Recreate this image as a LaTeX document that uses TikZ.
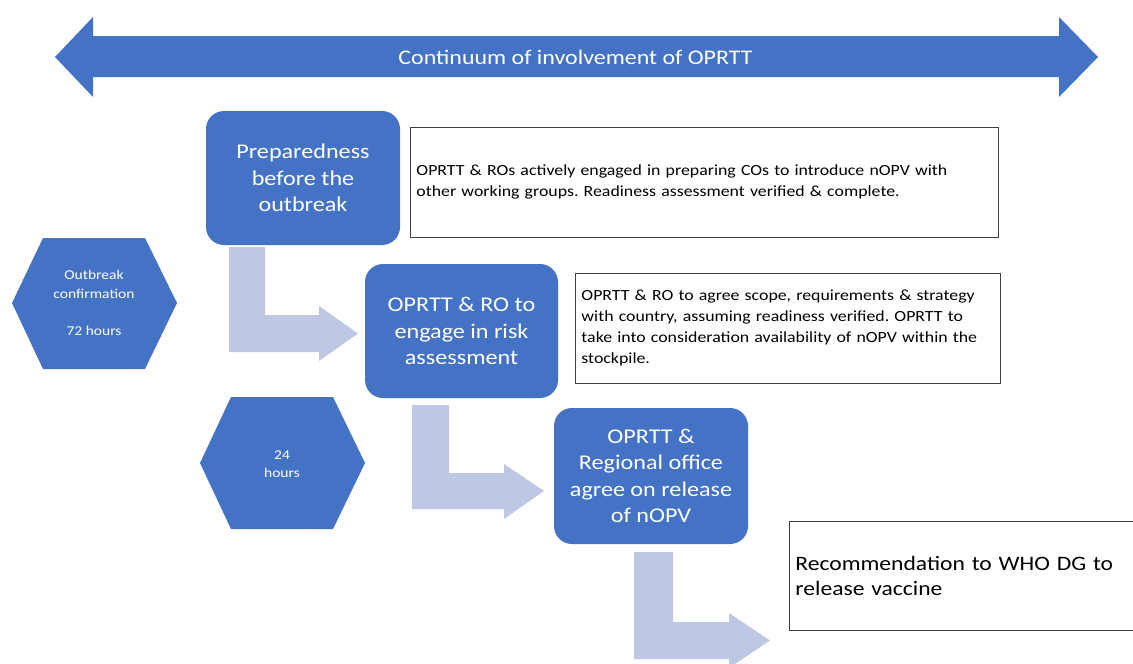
\documentclass[tikz,border=0pt]{standalone}
\usepackage{fontspec}
\setmainfont{Carlito}[FakeStretch=1.15]
\definecolor{mblue}{RGB}{68,114,196}
\definecolor{lblue}{RGB}{190,200,228}
\definecolor{bord}{RGB}{64,64,64}
\frenchspacing
\begin{document}
\begin{tikzpicture}[x=1pt,y=-1pt,
  stage/.style={fill=mblue,rounded corners=18pt,text=white,align=center,inner sep=0pt,
    font=\fontsize{21}{26.3}\selectfont},
  note/.style={draw=bord,line width=0.9pt,fill=white,align=left,inner xsep=6pt,inner ysep=0pt,anchor=west},
  hexa/.style={fill=mblue},
  bent/.style={fill=lblue},
  hexlabel/.style={text=white,align=center,inner sep=0pt,font=\fontsize{13.5}{18.7}\selectfont}]
\clip (0,0) rectangle (1133,664);
\fill[white] (0,0) rectangle (1133,664);
% top double arrow
\fill[mblue] (55,57) -- (93,17) -- (93,36) -- (1059,36) -- (1059,17) -- (1098,57)
  -- (1059,97) -- (1059,77) -- (93,77) -- (93,97) -- cycle;
\node[text=white,font=\fontsize{20.8}{24}\selectfont,inner sep=0pt] (title) at (575.5,57) {Continuum of involvement of OPRTT};
% stage boxes
\node[stage,minimum width=194pt,minimum height=134pt] (prep) at (303,178) {Preparedness\\before the\\outbreak};
\node[stage,minimum width=193pt,minimum height=134pt] (risk) at (461.5,331) {OPRTT \& RO to\\engage in risk\\assessment};
\node[stage,minimum width=194pt,minimum height=136pt] (agree) at (651,476) {OPRTT \&\\Regional office\\agree on release\\of nOPV};
% notes
\node[note,minimum height=110pt,text width=576pt,font=\fontsize{15.5}{21}\selectfont] (n1) at (410,182)
  {OPRTT \& ROs actively engaged in preparing COs to introduce nOPV with\\other working groups. Readiness assessment verified \& complete.};
\node[note,minimum height=110pt,text width=413pt,font=\fontsize{15.5}{21}\selectfont] (n2) at (575,328)
  {OPRTT \& RO to agree scope, requirements \& strategy\\with country, assuming readiness verified. OPRTT to\\take into consideration availability of nOPV within the\\stockpile.};
\node[note,minimum height=109pt,text width=360pt,font=\fontsize{20.5}{25}\selectfont] (n3) at (789,575.5)
  {Recommendation to WHO DG to\\release vaccine};
% hexagons
\fill[hexa] (12,303) -- (43,238) -- (145,238) -- (177,303) -- (145,369) -- (43,369) -- cycle;
\node[hexlabel] (h1) at (94,303) {Outbreak\\confirmation\\[18.7pt]72 hours};
\fill[hexa] (200,463) -- (231,397) -- (333,397) -- (365,463) -- (333,529) -- (231,529) -- cycle;
\node[hexlabel,font=\fontsize{13.5}{18}\selectfont] (h2) at (282,464) {24\\hours};
% bent arrows
\fill[bent] (229,247) -- (265,247) -- (265,315) -- (319,315) -- (319,306) -- (358,333.5)
  -- (319,361) -- (319,352) -- (229,352) -- cycle;
\fill[bent] (412,405) -- (449,405) -- (449,473) -- (504,473) -- (504,464) -- (544,491)
  -- (504,519) -- (504,509) -- (412,509) -- cycle;
\fill[bent] (634,552) -- (673,552) -- (673,622) -- (729,622) -- (729,613) -- (770,640.5)
  -- (729,668) -- (729,659) -- (634,659) -- cycle;
\end{tikzpicture}
\end{document}
